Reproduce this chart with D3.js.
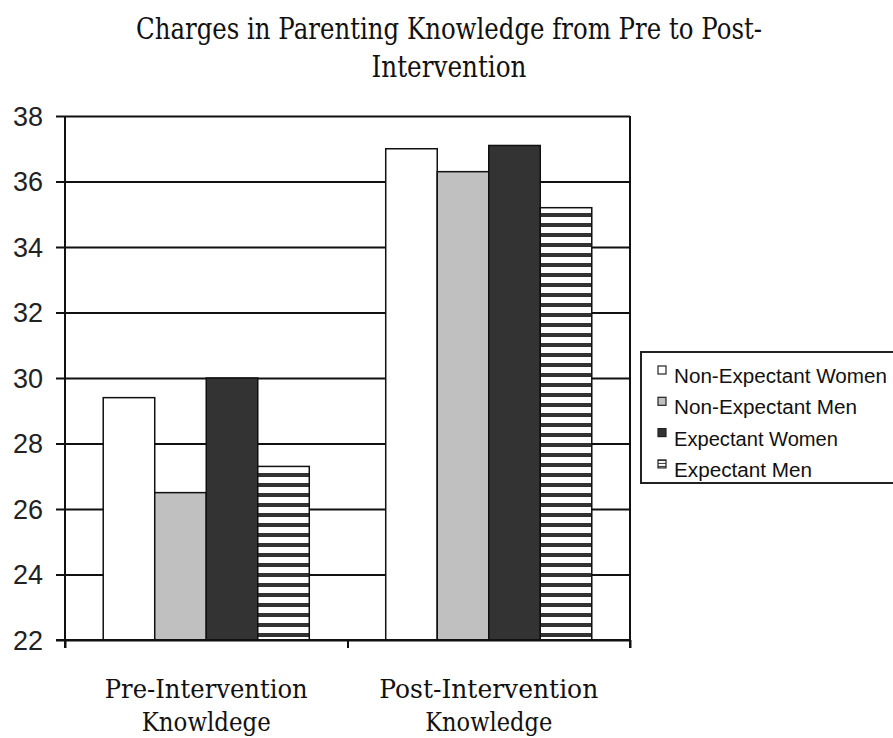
<!DOCTYPE html>
<html>
<head>
<meta charset="utf-8">
<script src="https://cdn.jsdelivr.net/npm/d3@7"></script>
<style>
  html, body { margin: 0; padding: 0; background: #fff; }
  svg { display: block; }
</style>
</head>
<body>
<svg id="chart" width="893" height="738"></svg>
<script>
// Knowledge scores by group, before and after the intervention
const categories = ["Pre-Intervention Knowledge", "Post-Intervention Knowledge"];
const categoryLines = [["Pre-Intervention", "Knowldege"], ["Post-Intervention", "Knowledge"]];
const seriesNames = ["Non-Expectant Women", "Non-Expectant Men", "Expectant Women", "Expectant Men"];
const nonExpectantWomen = [29.4, 37.0];
const nonExpectantMen = [26.5, 36.3];
const expectantWomen = [30.0, 37.1];
const expectantMen = [27.3, 35.2];
const yTicks = [22, 24, 26, 28, 30, 32, 34, 36, 38];
const titleLines = ["Charges in Parenting Knowledge from Pre to Post-", "Intervention"];

const seriesValues = [nonExpectantWomen, nonExpectantMen, expectantWomen, expectantMen];
const fills = ["#ffffff", "#c0c0c0", "#333333", "url(#hstripes)"];

const svg = d3.select("#chart");
const plot = { left: 65, right: 630, top: 116, bottom: 640 };

// Horizontal stripe fill for the last series
const defs = svg.append("defs");
const pat = defs.append("pattern")
  .attr("id", "hstripes")
  .attr("patternUnits", "userSpaceOnUse")
  .attr("width", 10).attr("height", 10);
pat.append("rect").attr("width", 10).attr("height", 10).attr("fill", "#ffffff");
pat.append("rect").attr("y", 3).attr("width", 10).attr("height", 4).attr("fill", "#333333");

const patS = defs.append("pattern")
  .attr("id", "hstripesSmall")
  .attr("patternUnits", "userSpaceOnUse")
  .attr("width", 4).attr("height", 3);
patS.append("rect").attr("width", 4).attr("height", 3).attr("fill", "#ffffff");
patS.append("rect").attr("y", 1).attr("width", 4).attr("height", 1).attr("fill", "#333333");

const y = d3.scaleLinear().domain([22, 38]).range([plot.bottom, plot.top]);
const x0 = d3.scaleBand().domain(categories).range([plot.left, plot.right]).padding(0);
const x1 = d3.scaleBand().domain(seriesNames).range([0, x0.bandwidth()])
  .paddingInner(0).paddingOuter(0.742);

// Title, set in a compressed serif
const title = svg.append("g").attr("font-family", "'DejaVu Serif', serif").attr("fill", "#111");
title.append("text").attr("x", 449).attr("y", 39).attr("text-anchor", "middle")
  .attr("font-size", 29).attr("textLength", 626).attr("lengthAdjust", "spacingAndGlyphs")
  .text(titleLines[0]);
title.append("text").attr("x", 449).attr("y", 77).attr("text-anchor", "middle")
  .attr("font-size", 29).attr("textLength", 155).attr("lengthAdjust", "spacingAndGlyphs")
  .text(titleLines[1]);

// Horizontal gridlines with left tick marks
const yAxis = d3.axisLeft(y).tickValues(yTicks)
  .tickSize(-(plot.right - plot.left)).tickSizeOuter(0).tickPadding(14);
const gy = svg.append("g").attr("transform", `translate(${plot.left},0)`).call(yAxis);
gy.select(".domain").remove();
gy.selectAll(".tick line").attr("stroke", "#111").attr("stroke-width", 2)
  .attr("x1", -9);
gy.selectAll(".tick text")
  .attr("font-family", "'Liberation Sans', Arial, sans-serif")
  .attr("font-size", 27).attr("fill", "#222").attr("dy", "0.35em")
  .attr("x", -22);

// Bars
const groups = svg.append("g").selectAll("g")
  .data(categories).join("g")
  .attr("transform", d => `translate(${x0(d)},0)`);
groups.selectAll("rect")
  .data((d, ci) => seriesNames.map((s, si) => ({ s, si, v: seriesValues[si][ci] })))
  .join("rect")
  .attr("x", d => x1(d.s))
  .attr("y", d => y(d.v))
  .attr("width", x1.bandwidth())
  .attr("height", d => y(22) - y(d.v))
  .attr("fill", d => fills[d.si])
  .attr("stroke", "#111").attr("stroke-width", 1.5);

// Plot frame: left axis and right border
svg.append("line").attr("x1", plot.left).attr("x2", plot.left)
  .attr("y1", plot.top).attr("y2", plot.bottom + 8).attr("stroke", "#111").attr("stroke-width", 2);
svg.append("line").attr("x1", plot.right).attr("x2", plot.right)
  .attr("y1", plot.top).attr("y2", plot.bottom + 8).attr("stroke", "#111").attr("stroke-width", 2);

// Category axis
const xAxis = d3.axisBottom(d3.scaleLinear().domain([0, categories.length]).range([plot.left, plot.right]))
  .tickValues(d3.range(categories.length + 1)).tickSize(8).tickFormat("");
const gx = svg.append("g").attr("transform", `translate(0,${plot.bottom})`).call(xAxis);
gx.select(".domain").attr("stroke", "#111").attr("stroke-width", 2)
  .attr("d", `M${plot.left - 9},0H${plot.right}`);
gx.selectAll(".tick line").attr("stroke", "#111").attr("stroke-width", 2);

// Category labels in two lines
const catWidths = [[203, 129], [219, 127]];
const catLabels = svg.append("g").attr("font-family", "'DejaVu Serif', serif").attr("fill", "#111");
categories.forEach((c, ci) => {
  const cx = x0(c) + x0.bandwidth() / 2;
  categoryLines[ci].forEach((line, li) => {
    catLabels.append("text")
      .attr("x", cx).attr("y", li === 0 ? 698 : 731)
      .attr("text-anchor", "middle").attr("font-size", 26)
      .attr("textLength", catWidths[ci][li]).attr("lengthAdjust", "spacingAndGlyphs")
      .text(line);
  });
});

// Legend
const legend = svg.append("g").attr("transform", "translate(641,352)");
legend.append("rect").attr("x", 0).attr("y", 0).attr("width", 270).attr("height", 131)
  .attr("fill", "#fff").attr("stroke", "#222").attr("stroke-width", 2);
const legendFills = ["#ffffff", "#c0c0c0", "#333333", "url(#hstripesSmall)"];
const legendWidths = [213, 183, 164, 138];
const items = legend.selectAll("g.item").data(seriesNames).join("g")
  .attr("class", "item")
  .attr("transform", (d, i) => `translate(0,${22 + i * 31.3})`);
items.append("rect").attr("x", 17).attr("y", -8).attr("width", 8).attr("height", 8)
  .attr("fill", (d, i) => legendFills[i]).attr("stroke", "#222").attr("stroke-width", 1.2);
items.append("text").attr("x", 33).attr("y", 0).attr("dy", "0.45em")
  .attr("font-family", "'Liberation Sans', Arial, sans-serif")
  .attr("font-size", 20).attr("fill", "#111")
  .attr("textLength", (d, i) => legendWidths[i]).attr("lengthAdjust", "spacingAndGlyphs")
  .text(d => d);
</script>
</body>
</html>
